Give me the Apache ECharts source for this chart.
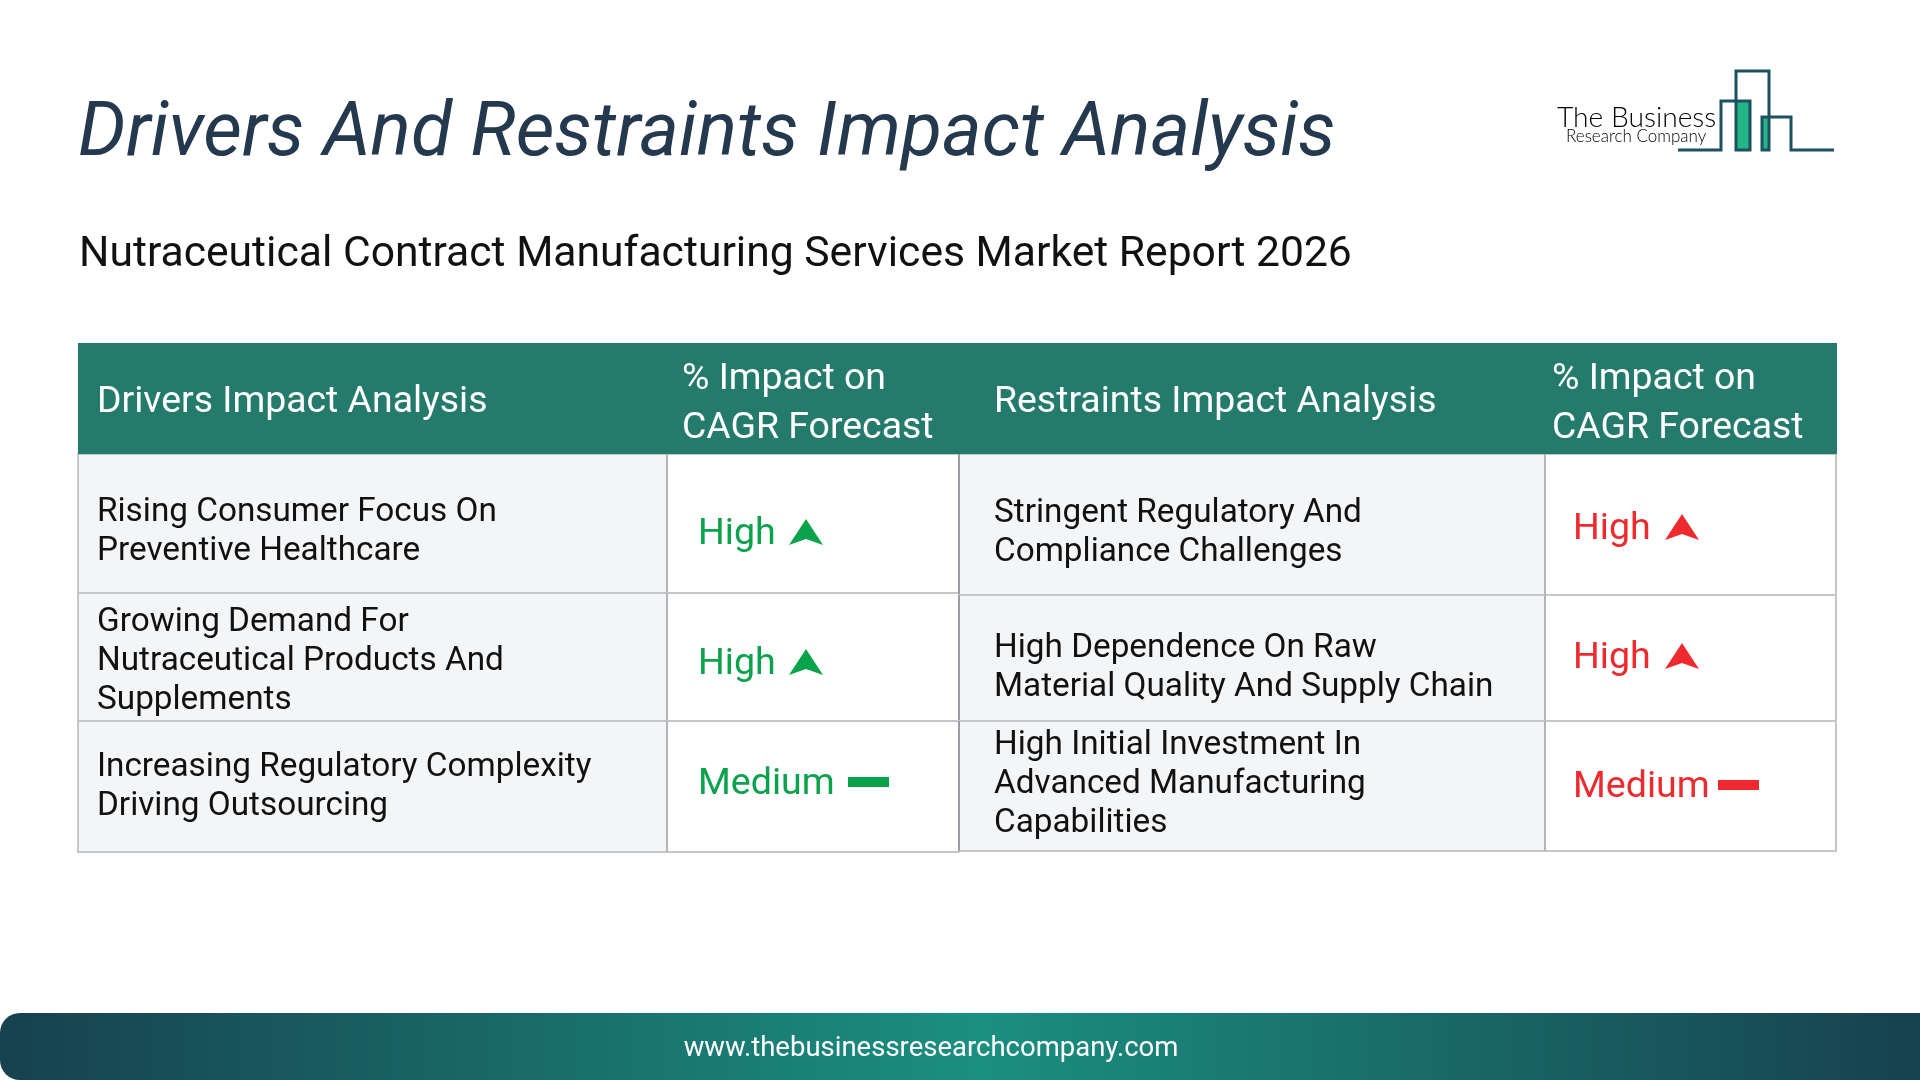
<!DOCTYPE html>
<html>
<head>
<meta charset="utf-8">
<style>
  html, body { margin: 0; padding: 0; background: #fff; }
  #main { width: 1920px; height: 1080px; }
</style>
<script src="https://cdn.jsdelivr.net/npm/echarts@6/dist/echarts.min.js"></script>
</head>
<body>
<div id="main"></div>
<script>
  var pageTitle = 'Drivers And Restraints Impact Analysis';
  var pageSubtitle = 'Nutraceutical Contract Manufacturing Services Market Report 2026';
  var headerLabels = ['Drivers Impact Analysis', '% Impact on\nCAGR Forecast', 'Restraints Impact Analysis', '% Impact on\nCAGR Forecast'];
  var driverNames = [
    'Rising Consumer Focus On\nPreventive Healthcare',
    'Growing Demand For\nNutraceutical Products And\nSupplements',
    'Increasing Regulatory Complexity\nDriving Outsourcing'
  ];
  var driverImpacts = ['High', 'High', 'Medium'];
  var restraintNames = [
    'Stringent Regulatory And\nCompliance Challenges',
    'High Dependence On Raw\nMaterial Quality And Supply Chain',
    'High Initial Investment In\nAdvanced Manufacturing\nCapabilities'
  ];
  var restraintImpacts = ['High', 'High', 'Medium'];
  var footerUrl = 'www.thebusinessresearchcompany.com';

  // table layout, in pixels from the table's top left corner
  var TABLE = { left: 78, top: 343, width: 1758, height: 509 };
  var COL_EDGES = [0, 589, 881, 1467, 1758];
  var ROW_EDGES = [[111, 250, 378, 509], [111, 252, 378, 508]];
  var HEADER_INDENT = [19, 15, 35, 7];
  var HEADER_SHIFT = [5, 7, 5, 7];
  var NAME_INDENT = [19, 35];
  var NAME_CENTER = [[189, 319, 444], [190, 325, 442]];
  var IMPACT_CENTER = [[192, 322, 442], [187, 316, 445]];
  var IMPACT_INDENT = [[31, 31, 31], [28, 28, 28]];
  var ICON_OFFSET = [{ High: 91, Medium: 150 }, { High: 92, Medium: 145 }];

  var FONT = 'Roboto';
  var GREEN = '#0aa24a';
  var RED = '#ee2a2e';
  var HEADER_BG = '#257b6b';
  var CELL_BG = '#f3f5f7';
  var BORDER = '#c4c7ca';

  var cells = [];
  [[driverNames, driverImpacts, 0], [restraintNames, restraintImpacts, 1]].forEach(function(side) {
    var s = side[2];
    var colName = s * 2;
    side[0].forEach(function(name, row) {
      cells.push({
        value: [COL_EDGES[colName], ROW_EDGES[s][row], COL_EDGES[colName + 1], ROW_EDGES[s][row + 1]],
        kind: 'name', text: name, center: NAME_CENTER[s][row], indent: NAME_INDENT[s], side: s
      });
      cells.push({
        value: [COL_EDGES[colName + 1], ROW_EDGES[s][row], COL_EDGES[colName + 2], ROW_EDGES[s][row + 1]],
        kind: 'impact', text: side[1][row], center: IMPACT_CENTER[s][row],
        indent: IMPACT_INDENT[s][row], color: s === 0 ? GREEN : RED, side: s
      });
    });
  });
  // headers go last so they cover the top border of the first row
  headerLabels.forEach(function(label, col) {
    cells.push({
      value: [COL_EDGES[col], 0, COL_EDGES[col + 1], 111],
      kind: 'header', text: label, indent: HEADER_INDENT[col], shift: HEADER_SHIFT[col]
    });
  });

  function renderCell(params, api) {
    var cell = cells[params.dataIndex];
    var p0 = api.coord([api.value(0), api.value(1)]);
    var p1 = api.coord([api.value(2), api.value(3)]);
    var w = p1[0] - p0[0];
    var h = p1[1] - p0[1];
    var kids = [];
    if (cell.kind === 'header') {
      kids.push({ type: 'rect', shape: { x: p0[0], y: p0[1], width: w + 1, height: h }, style: { fill: HEADER_BG } });
      kids.push({
        type: 'text',
        style: {
          x: p0[0] + cell.indent, y: p0[1] + h / 2 - 1 + cell.shift,
          text: cell.text, fill: '#fff', font: '37.4px ' + FONT, lineHeight: 49, verticalAlign: 'middle'
        }
      });
    } else {
      var cy = TABLE.top + cell.center;
      kids.push({
        type: 'rect', shape: { x: p0[0], y: p0[1], width: w, height: h },
        style: { fill: cell.kind === 'name' ? CELL_BG : '#fff', stroke: BORDER, lineWidth: 2 }
      });
      if (cell.kind === 'name') {
        // the restraints block has a thin dark left edge
        if (cell.side === 1) {
          kids.push({
            type: 'line', shape: { x1: p0[0], y1: p0[1], x2: p0[0], y2: p1[1] },
            style: { stroke: '#70757a', lineWidth: 1 }
          });
        }
        kids.push({
          type: 'text',
          style: {
            x: p0[0] + cell.indent, y: cy, text: cell.text, fill: '#111', font: '33.3px ' + FONT,
            lineHeight: 39, verticalAlign: 'middle'
          }
        });
      } else {
        kids.push({
          type: 'line', shape: { x1: p0[0], y1: p0[1], x2: p0[0], y2: p1[1] },
          style: { stroke: '#b2b5b8', lineWidth: 2 }
        });
        var tx = p0[0] + cell.indent;
        kids.push({
          type: 'text',
          style: { x: tx, y: cy, text: cell.text, fill: cell.color, font: '37.6px ' + FONT, verticalAlign: 'middle' }
        });
        var ix = tx + ICON_OFFSET[cell.side][cell.text];
        if (cell.text === 'High') {
          kids.push({
            type: 'polygon',
            shape: { points: [[ix + 17, cy - 16], [ix + 34, cy + 10], [ix + 17, cy + 4], [ix, cy + 10]] },
            style: { fill: cell.color }
          });
        } else {
          kids.push({ type: 'rect', shape: { x: ix, y: cy - 8, width: 41, height: 10 }, style: { fill: cell.color } });
        }
      }
    }
    return { type: 'group', children: kids };
  }

  var chart = echarts.init(document.getElementById('main'));
  chart.setOption({
    animation: false,
    backgroundColor: '#fff',
    title: [
      {
        text: pageTitle, left: 73, top: 94,
        textStyle: { fontFamily: FONT, fontStyle: 'italic', fontWeight: 400, fontSize: 75.3, color: '#24384e' }
      },
      {
        text: pageSubtitle, left: 74, top: 229,
        textStyle: { fontFamily: FONT, fontWeight: 400, fontSize: 42.65, color: '#111' }
      }
    ],
    grid: { left: TABLE.left, top: TABLE.top, width: TABLE.width, height: TABLE.height },
    xAxis: { type: 'value', min: 0, max: TABLE.width, show: false },
    yAxis: { type: 'value', min: 0, max: TABLE.height, inverse: true, show: false },
    series: [{
      type: 'custom',
      coordinateSystem: 'cartesian2d',
      clip: false,
      silent: true,
      encode: { x: [0, 2], y: [1, 3] },
      data: cells,
      renderItem: renderCell
    }],
    graphic: [
      {
        type: 'rect',
        shape: { x: 0, y: 1013, width: 1920, height: 67, r: [20, 0, 0, 20] },
        style: {
          fill: new echarts.graphic.LinearGradient(0, 0, 1, 0, [
            { offset: 0, color: '#17414f' },
            { offset: 0.51, color: '#1b8f80' },
            { offset: 1, color: '#17414f' }
          ])
        }
      },
      {
        type: 'text', x: 931, y: 1049,
        style: { text: footerUrl, fill: '#fff', font: '27.5px ' + FONT, align: 'center', verticalAlign: 'middle' }
      },
      // logo
      { type: 'rect', shape: { x: 1736, y: 101, width: 14, height: 49 }, style: { fill: '#22b585' } },
      { type: 'rect', shape: { x: 1762, y: 117, width: 7, height: 33 }, style: { fill: '#22b585' } },
      {
        type: 'polyline',
        shape: {
          points: [[1678, 150], [1721, 150], [1721, 101], [1750, 101], [1750, 150], [1736, 150], [1736, 71], [1769, 71],
            [1769, 150], [1762, 150], [1762, 117], [1791, 117], [1791, 150], [1834, 150]]
        },
        style: { stroke: '#1d5060', lineWidth: 3, fill: null }
      },
      {
        type: 'text', x: 1557, y: 118,
        style: { text: 'The Business', fill: '#000', font: '300 28.2px Lato', verticalAlign: 'middle' }
      },
      {
        type: 'text', x: 1566, y: 137,
        style: { text: 'Research Company', fill: '#000', font: '300 17px Lato', verticalAlign: 'middle' }
      }
    ]
  });
</script>
</body>
</html>
